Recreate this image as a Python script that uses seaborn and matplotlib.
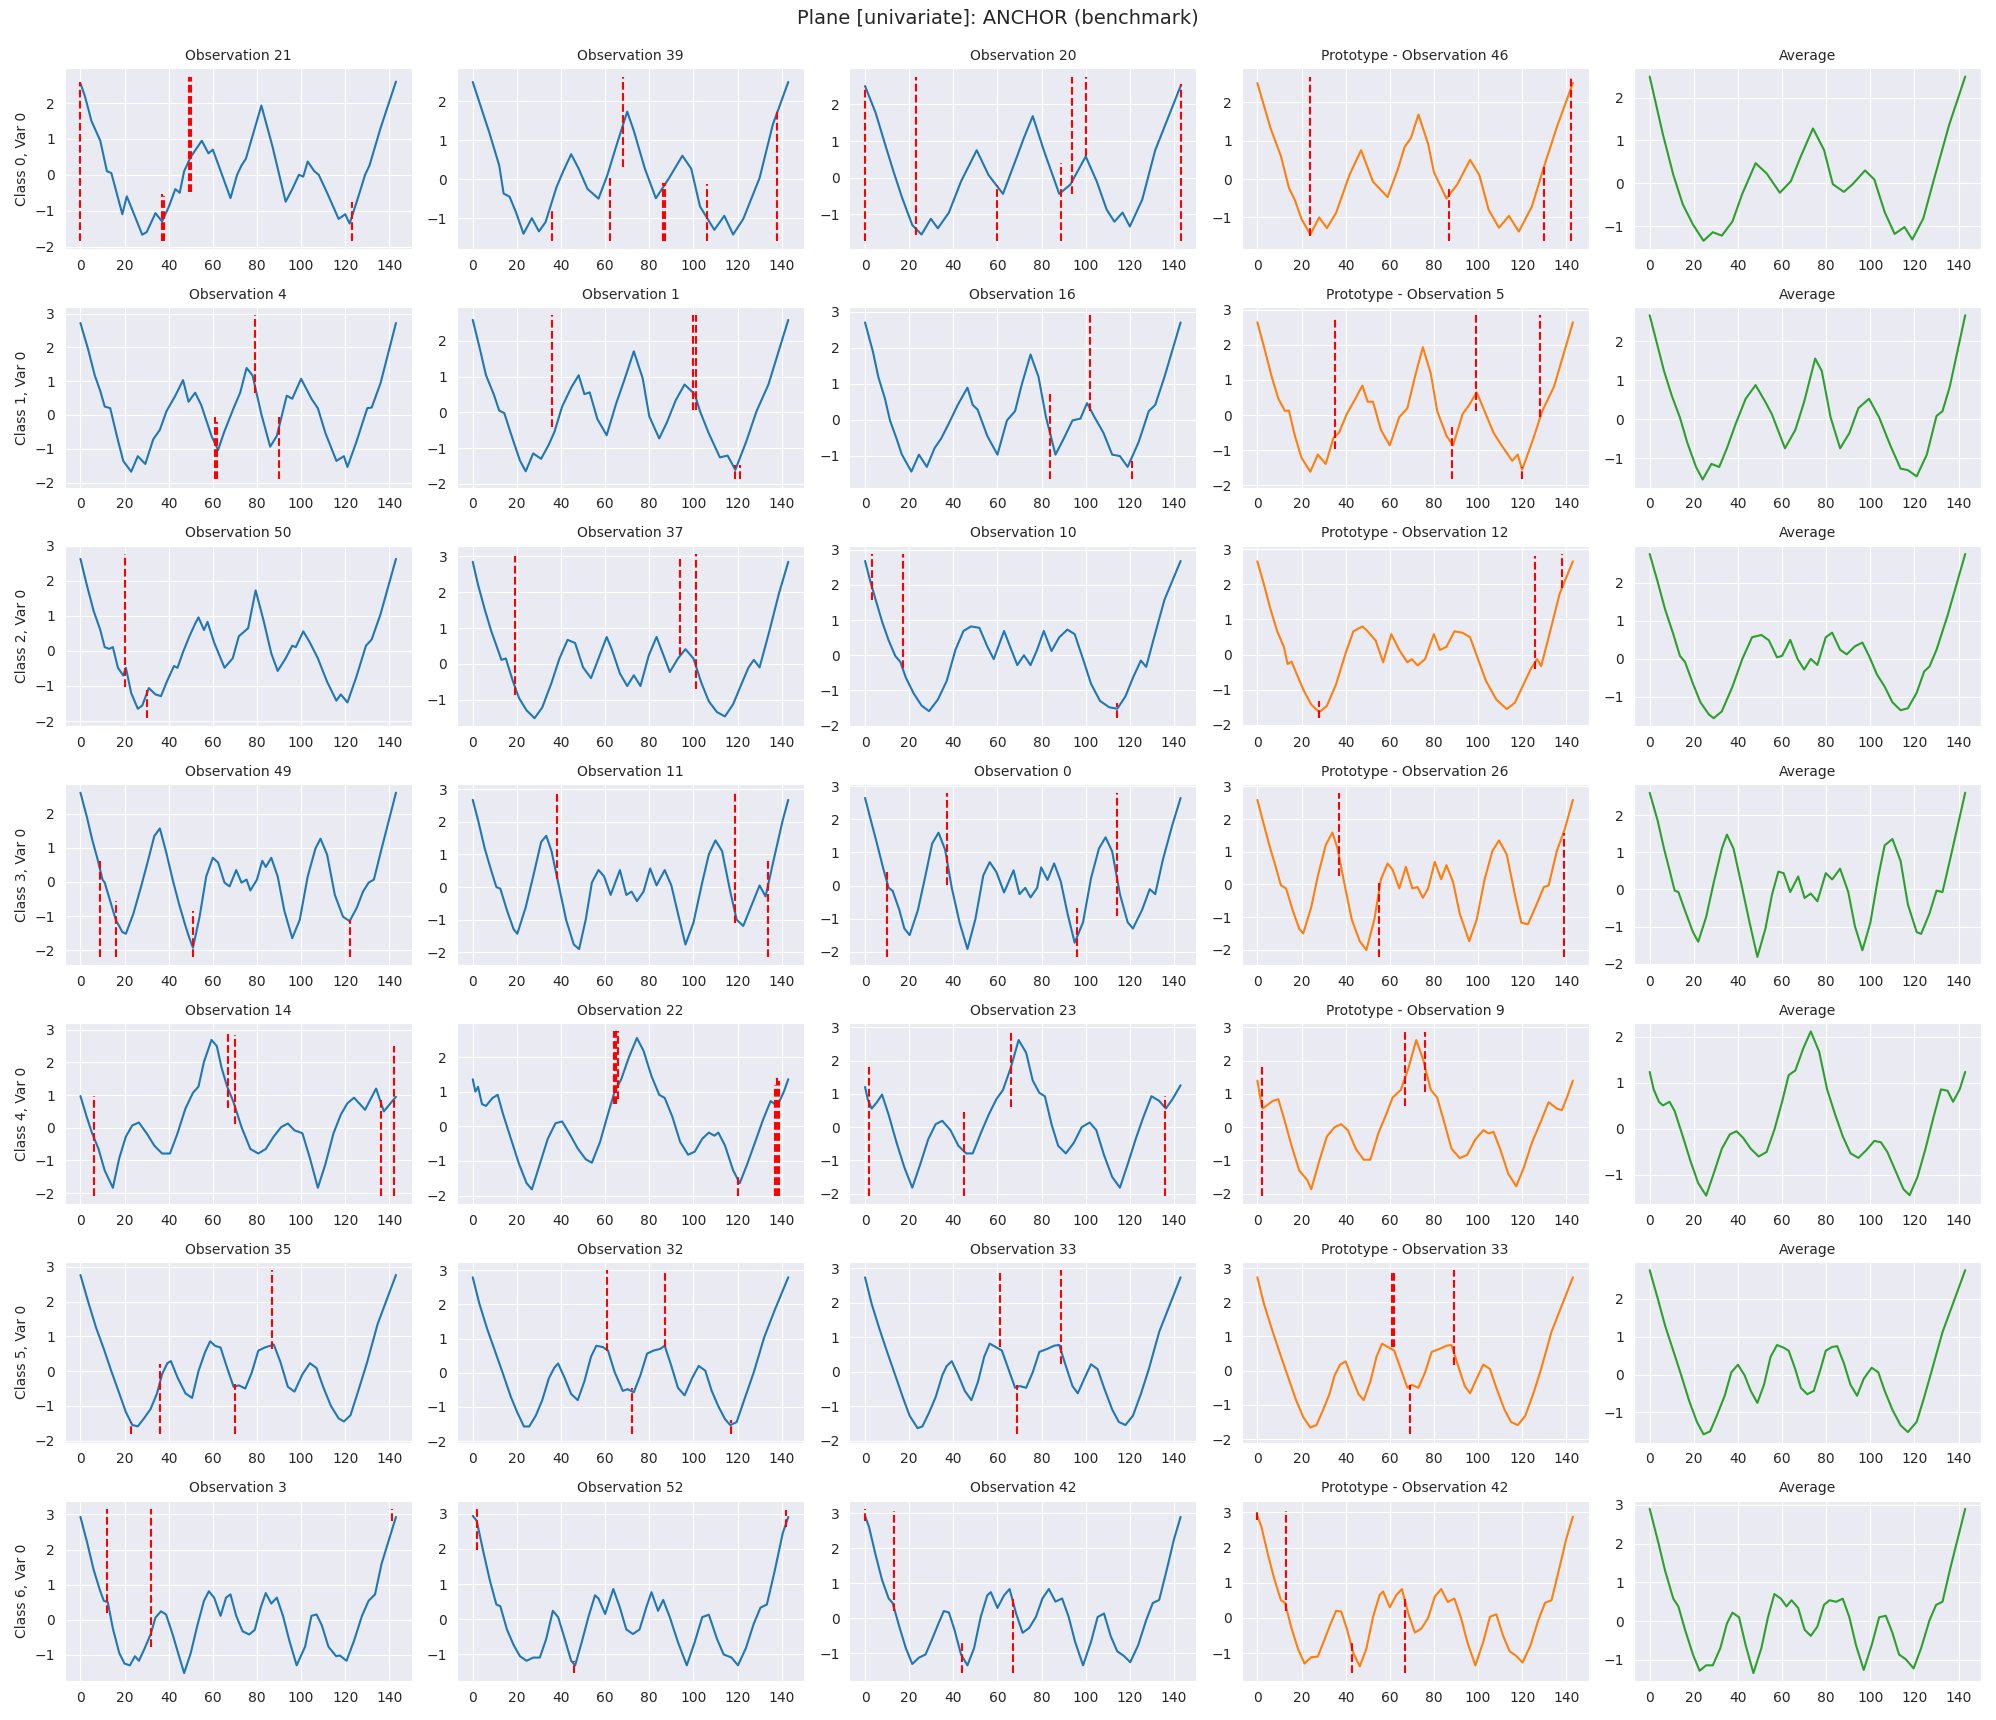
import matplotlib
matplotlib.use("Agg")
import matplotlib.pyplot as plt
import seaborn as sns

# each series: (time index, value)
# each explanation: (time index, ymin, ymax) for a red dashed segment

# ---- Class 0 ----
c0_obs21 = [(0, 2.55), (2, 2.2), (5, 1.5), (9, 0.95), (12, 0.1), (14, 0.05), (19, -1.1), (21, -0.6), (23, -0.9),
            (28, -1.67), (30, -1.6), (34, -1.07), (37, -1.3), (40, -0.9), (43, -0.4), (45, -0.5), (47, 0.1),
            (50, 0.5), (55, 0.95), (58, 0.6), (60, 0.7), (63, 0.2), (68, -0.65), (71, 0.0), (73, 0.26),
            (75, 0.45), (82, 1.93), (87, 0.8), (93, -0.75), (96, -0.4), (99, 0.0), (101, -0.05), (103, 0.37),
            (106, 0.1), (108, 0.0), (112, -0.53), (117, -1.23), (120, -1.1), (122, -1.36), (126, -0.6),
            (129, 0.0), (131, 0.26), (136, 1.3), (143, 2.6)]
c0_obs21_red = [(0, -1.84, 2.59), (37, -1.84, -0.53), (38, -1.84, -0.6), (49, -0.48, 2.74), (50, -0.48, 2.74),
                (123, -1.84, -0.77)]

c0_obs39 = [(0, 2.49), (4, 1.8), (7.7, 1.16), (12, 0.35), (14, -0.37), (16.7, -0.45), (19.6, -0.85), (23, -1.4),
            (26.8, -1.0), (30, -1.34), (33, -1.1), (38, -0.2), (41, 0.2), (44.6, 0.64), (48, 0.27), (52, -0.25),
            (57, -0.5), (61, 0.1), (65, 0.84), (70, 1.73), (73, 1.24), (78, 0.27), (83, -0.49), (89, 0.03),
            (95, 0.6), (99, 0.27), (103, -0.7), (109.5, -1.3), (114, -0.94), (118, -1.42), (122.6, -1.02),
            (130, 0.03), (136, 1.4), (143, 2.49)]
c0_obs39_red = [(36, -1.58, -0.81), (62, -1.58, 0.03), (68, 0.31, 2.63), (86, -1.58, -0.09), (87, -1.58, -0.09),
                (106, -1.58, -0.13), (138, -1.58, 1.8)]

c0_obs20 = [(0, 2.5), (4.8, 1.77), (9.5, 0.83), (13, 0.15), (16.7, -0.53), (21.4, -1.29), (25.6, -1.55),
            (29.8, -1.12), (33, -1.38), (38, -0.95), (43.5, -0.1), (50.6, 0.75), (56, 0.07), (62.5, -0.44),
            (69, 0.6), (72, 1.09), (76, 1.68), (81, 0.75), (88, -0.44), (93, -0.19), (100, 0.58), (105, -0.1),
            (109.5, -0.87), (113, -1.2), (116.7, -0.95), (120, -1.33), (125.6, -0.6), (131.5, 0.75), (143, 2.5)]
c0_obs20_red = [(0, -1.72, 2.5), (23, -1.55, 2.76), (60, -1.72, -0.19), (89, -1.72, 0.41), (94, -0.44, 2.76),
                (100, 0.58, 2.76), (143, -1.72, 2.57)]

c0_proto46 = [(0, 2.5), (6, 1.32), (10.7, 0.59), (14.3, -0.23), (17, -0.55), (20, -1.04), (24, -1.45), (28, -1.0),
              (31.5, -1.28), (35.7, -0.88), (41.7, 0.1), (47, 0.75), (52.4, -0.07), (59, -0.47), (63.7, 0.26),
              (66.7, 0.83), (69.6, 1.07), (73, 1.68), (77.4, 0.91), (80, 0.18), (85.7, -0.51), (90.5, -0.15),
              (96.4, 0.5), (100.6, 0.1), (104.8, -0.8), (109.5, -1.27), (114, -0.96), (118.5, -1.37),
              (124.4, -0.72), (130, 0.34), (136, 1.4), (143, 2.5)]
c0_proto46_red = [(24, -1.49, 2.67), (87, -1.61, -0.23), (130, -1.61, 0.34), (142, -1.61, 2.62)]

c0_avg = [(0, 2.49), (6, 1.14), (10.7, 0.2), (15, -0.49), (19.6, -0.96), (24.4, -1.34), (28.6, -1.14),
          (32.7, -1.22), (37.5, -0.89), (42, -0.24), (48, 0.47), (53, 0.23), (59, -0.22), (64, 0.05), (68.5, 0.63),
          (74, 1.28), (79, 0.78), (83, -0.02), (88, -0.2), (92, -0.02), (97.6, 0.3), (101.8, 0.09), (106.5, -0.67),
          (111, -1.18), (115.5, -1.02), (119, -1.31), (124, -0.82), (128.6, 0.05), (135.7, 1.36), (143, 2.49)]

# ---- Class 1 ----
c1_obs4 = [(0, 2.72), (3.5, 1.94), (6.5, 1.17), (9, 0.71), (11, 0.25), (13.5, 0.2), (16.5, -0.62), (19.4, -1.36),
           (23, -1.68), (26, -1.22), (29.4, -1.45), (33, -0.72), (36, -0.44), (39, 0.11), (43, 0.57), (46.5, 1.03),
           (49, 0.39), (52, 0.66), (54.7, 0.3), (59.4, -0.62), (62.4, -1.04), (65, -0.53), (69.4, 0.2),
           (72.4, 0.66), (75.3, 1.39), (78, 1.17), (82, 0.02), (86, -0.94), (89, -0.62), (93.5, 0.57), (96, 0.48),
           (100, 1.07), (104.7, 0.48), (107.6, 0.2), (111, -0.53), (116, -1.36), (119.4, -1.22), (121, -1.54),
           (125, -0.81), (130, 0.2), (132, 0.22), (136, 0.94), (143, 2.72)]
c1_obs4_red = [(61, -1.91, -0.07), (62, -1.91, -0.2), (79, 0.66, 2.95), (90, -1.91, -0.07)]

c1_obs1 = [(0, 2.59), (3, 1.84), (6, 1.04), (9.5, 0.51), (12, 0.05), (14.3, -0.02), (18, -0.73), (21.4, -1.35),
           (24, -1.65), (27.4, -1.15), (31, -1.3), (34.5, -0.9), (37, -0.55), (40.5, 0.16), (44.6, 0.69),
           (48, 1.04), (50.6, 0.51), (53, 0.56), (56.5, -0.19), (60.7, -0.64), (65, 0.25), (68.5, 0.87), (73, 1.71),
           (77, 0.96), (80, -0.11), (84.5, -0.73), (88, -0.28), (92, 0.34), (96, 0.78), (100.6, 0.51), (103, 0.03),
           (107, -0.59), (112, -1.26), (115.5, -1.21), (119, -1.61), (124, -0.81), (128.6, 0.03), (134, 0.78),
           (143, 2.59)]
c1_obs1_red = [(36, -0.42, 2.72), (100, 0.07, 2.72), (101, 0.07, 2.72), (119, -1.88, -1.48), (121, -1.88, -1.48)]

c1_obs16 = [(0, 2.7), (3.6, 1.88), (6, 1.19), (9, 0.59), (11.3, -0.02), (14.3, -0.53), (16.7, -0.97), (21, -1.44),
            (24.4, -0.97), (28, -1.31), (31.5, -0.79), (34.5, -0.52), (38, -0.1), (42, 0.41), (46.4, 0.89),
            (48.8, 0.41), (51, 0.28), (55.4, -0.45), (60, -0.97), (64.3, -0.02), (68, 0.24), (70.8, 0.93),
            (75, 1.81), (78.6, 1.19), (82, 0.07), (86.3, -0.97), (90, -0.53), (94, -0.02), (97.6, 0.03),
            (100.6, 0.46), (104, 0.07), (108, -0.36), (112, -0.97), (115.5, -1.01), (119, -1.31), (124, -0.62),
            (128.6, 0.24), (131.5, 0.41), (135.7, 1.19), (143, 2.7)]
c1_obs16_red = [(84, -1.66, 0.72), (102, 0.24, 2.9), (121, -1.66, -1.14)]

c1_proto5 = [(0, 2.64), (3.6, 1.8), (6.5, 1.09), (9.5, 0.47), (12.5, 0.12), (14.3, 0.13), (17, -0.59), (20, -1.21),
             (24, -1.61), (27.4, -1.12), (31, -1.39), (34.5, -0.64), (37, -0.5), (40.5, 0.03), (44, 0.42),
             (47.6, 0.84), (50, 0.38), (52.4, 0.38), (56, -0.42), (60, -0.86), (64.3, -0.06), (68, 0.2),
             (71.4, 1.09), (75, 1.93), (78.6, 1.18), (81.5, 0.12), (85.7, -0.59), (88.7, -0.86), (93, 0.03),
             (96, 0.29), (99.4, 0.65), (102.4, 0.2), (107, -0.5), (110.7, -0.86), (115.5, -1.3), (118, -1.12),
             (120, -1.55), (125, -0.68), (129, 0.1), (134.5, 0.82), (143, 2.64)]
c1_proto5_red = [(35, -0.95, 2.77), (88, -1.83, -0.24), (99, 0.12, 2.84), (120, -1.83, -1.48), (128, -0.06, 2.84)]

c1_avg = [(0, 2.66), (3.6, 1.87), (6.5, 1.23), (10, 0.6), (13.7, 0.04), (17, -0.6), (21, -1.23), (24, -1.55),
          (28, -1.15), (31.5, -1.23), (35, -0.75), (39, -0.12), (43.5, 0.52), (48, 0.87), (52.4, 0.44),
          (55.4, 0.12), (61.3, -0.75), (66, -0.28), (70, 0.44), (75, 1.55), (78, 1.23), (82, 0.04), (86.3, -0.75),
          (90.5, -0.36), (94.6, 0.28), (99.4, 0.52), (104, 0.04), (109, -0.67), (113.7, -1.27), (117, -1.31),
          (121, -1.47), (125.6, -0.91), (130, 0.08), (132.7, 0.2), (136, 0.83), (143, 2.66)]

# ---- Class 2 ----
c2_obs50 = [(0, 2.63), (3, 1.86), (6, 1.14), (9, 0.6), (11, 0.11), (13, 0.06), (14.7, 0.11), (17, -0.48),
            (19.4, -0.7), (20.6, -0.48), (23, -1.2), (26, -1.65), (28, -1.56), (31, -1.06), (34, -1.24),
            (36.5, -1.29), (39.4, -0.84), (42.4, -0.43), (44, -0.48), (46.5, -0.03), (49.4, 0.42), (52, 0.78),
            (53.5, 0.96), (56, 0.6), (57.6, 0.83), (60.6, 0.24), (65.3, -0.48), (69, -0.21), (71.8, 0.42),
            (76, 0.65), (79.4, 1.73), (83, 0.87), (86.5, -0.07), (89.4, -0.57), (93, -0.21), (96, 0.15),
            (97.6, 0.11), (101, 0.56), (104, 0.24), (107.6, -0.21), (111.8, -0.88), (116, -1.42), (118, -1.24),
            (121, -1.47), (125, -0.75), (129.4, 0.15), (132, 0.33), (136, 1.05), (143, 2.63)]
c2_obs50_red = [(20, -1.02, 2.77), (30, -1.92, -1.11)]

c2_obs37 = [(0, 2.85), (2.4, 2.21), (5.4, 1.53), (8.3, 0.93), (11.3, 0.41), (13, 0.11), (15, 0.15), (18, -0.45),
            (21, -0.96), (24.4, -1.3), (28, -1.52), (31.5, -1.22), (35.7, -0.53), (39.3, 0.15), (43, 0.67),
            (46.4, 0.58), (50, -0.1), (53.6, -0.4), (57, 0.15), (60.7, 0.75), (63, 0.41), (66.7, -0.27), (70, -0.62),
            (73, -0.32), (76, -0.62), (79.8, 0.24), (83.3, 0.75), (87, 0.15), (89.3, -0.23), (93, 0.15),
            (96.4, 0.41), (100, 0.15), (103.6, -0.53), (107, -1.05), (110.7, -1.35), (114.3, -1.47), (118, -1.13),
            (121.4, -0.62), (125, -0.1), (127.4, 0.11), (130, -0.1), (134.5, 0.93), (138.7, 1.95), (143, 2.85)]
c2_obs37_red = [(19, -0.87, 3.0), (94, 0.24, 2.98), (101, -0.7, 3.07)]

c2_obs10 = [(0, 2.68), (2.4, 2.1), (4.8, 1.58), (7.7, 0.96), (10.7, 0.42), (13.7, -0.02), (16, -0.19),
            (18.5, -0.64), (22, -1.08), (25.6, -1.43), (29, -1.59), (33, -1.26), (37, -0.73), (41, 0.16),
            (44.6, 0.69), (48, 0.82), (51.8, 0.78), (55.4, 0.25), (58.3, -0.11), (63, 0.69), (66, 0.2), (69, -0.28),
            (72, 0.0), (75, -0.28), (78, 0.16), (81, 0.69), (84.5, 0.12), (88, 0.51), (91.7, 0.73), (95, 0.6),
            (98.8, -0.11), (102.4, -0.81), (106.5, -1.3), (110.7, -1.48), (114.3, -1.52), (118, -1.17),
            (121.4, -0.64), (125, -0.15), (127.4, -0.33), (131, 0.51), (135.7, 1.58), (143, 2.68)]
c2_obs10_red = [(3, 1.58, 2.88), (17, -0.37, 2.88), (114, -1.79, -1.35)]

c2_proto12 = [(0, 2.65), (3, 1.99), (6, 1.28), (9, 0.66), (12, 0.22), (13.7, -0.27), (15.5, -0.2), (18, -0.58),
              (21, -1.02), (24.4, -1.42), (28, -1.64), (31.5, -1.46), (35.7, -0.84), (40, 0.04), (43.5, 0.66),
              (47.6, 0.8), (50, 0.66), (53.6, 0.4), (57, -0.22), (60.7, 0.58), (64.3, 0.13), (68, -0.22),
              (70, -0.13), (72.6, -0.31), (76, -0.13), (80, 0.58), (82.7, 0.13), (85.7, 0.22), (89.3, 0.66),
              (93, 0.62), (96.4, 0.49), (100, -0.13), (103.6, -0.75), (108.3, -1.28), (113, -1.55), (116.7, -1.37),
              (120, -0.93), (124, -0.4), (126.8, -0.13), (128.6, -0.33), (132, 0.49), (137, 1.73), (143, 2.65)]
c2_proto12_red = [(28, -1.81, -1.33), (126, -0.4, 2.8), (138, 1.9, 2.86)]

c2_avg = [(0, 2.76), (3.6, 2.03), (7, 1.3), (10.7, 0.65), (13.7, 0.08), (16, -0.08), (19.6, -0.65), (23, -1.14),
          (26.8, -1.46), (29, -1.56), (32.7, -1.38), (37.5, -0.73), (42, 0.0), (46.4, 0.57), (50.6, 0.63),
          (54, 0.49), (57.7, 0.04), (60, 0.08), (63.7, 0.5), (67, 0.0), (70, -0.28), (73, 0.0), (76, -0.16),
          (79.8, 0.57), (82.7, 0.69), (86.3, 0.24), (89.3, 0.12), (93, 0.33), (96.4, 0.43), (99.4, 0.08),
          (103, -0.41), (106.5, -0.73), (110, -1.14), (113.7, -1.35), (117, -1.3), (121, -0.89), (124.4, -0.33),
          (126.8, -0.2), (130, 0.24), (135, 1.14), (143, 2.76)]

# ---- Class 3 ----
c3_obs49 = [(0, 2.62), (3, 1.89), (5.3, 1.25), (7.6, 0.71), (10, 0.07), (11, -0.02), (13.5, -0.56), (16, -1.11),
            (19, -1.47), (20.6, -1.52), (24, -0.93), (27.6, -0.11), (30.6, 0.62), (33.5, 1.35), (36, 1.57),
            (38.8, 0.89), (41.8, 0.07), (44.7, -0.65), (47.6, -1.29), (49.4, -1.65), (51, -1.93), (54, -1.02),
            (57, 0.16), (60, 0.71), (62.4, 0.57), (65.3, -0.02), (67.6, -0.13), (70.6, 0.35), (73, -0.02),
            (75.3, 0.07), (77, -0.25), (80, 0.07), (82.4, 0.62), (84, 0.44), (86.5, 0.71), (89.4, 0.16),
            (92.4, -0.84), (96, -1.65), (99.4, -1.11), (103, 0.16), (106.5, 0.98), (108.8, 1.27), (111.8, 0.8),
            (115.3, -0.38), (119, -1.02), (122, -1.15), (125.3, -0.75), (128, -0.29), (130.6, -0.02), (133, 0.07),
            (136.5, 0.98), (143, 2.62)]
c3_obs49_red = [(9, -2.2, 0.66), (16, -2.2, -0.56), (51, -2.2, -0.84), (122, -2.2, -1.11)]

c3_obs11 = [(0, 2.67), (2.4, 2.05), (5.4, 1.19), (8.3, 0.52), (10.7, 0.0), (12.5, -0.05), (15.5, -0.71),
            (18.5, -1.29), (20.2, -1.43), (24, -0.62), (27.4, 0.33), (31, 1.38), (33.3, 1.57), (35.7, 1.1),
            (39.3, -0.05), (42.3, -1.0), (45.8, -1.76), (48.2, -1.9), (51.2, -1.0), (54, 0.14), (57, 0.52),
            (59.5, 0.33), (62.5, -0.24), (66.7, 0.52), (69.6, -0.24), (72, -0.14), (74.4, -0.43), (77.4, -0.14),
            (80.4, 0.57), (83.3, 0.05), (87, 0.52), (90, 0.05), (93, -0.81), (96.4, -1.76), (100, -1.1), (104, 0.14),
            (107, 1.0), (110, 1.43), (113, 1.1), (116.7, -0.14), (119.6, -1.0), (122.6, -1.19), (126, -0.62),
            (130, 0.05), (132.7, -0.29), (136.3, 0.81), (140.5, 2.05), (143, 2.67)]
c3_obs11_red = [(38, 0.24, 2.89), (119, -1.1, 2.89), (134, -2.14, 0.9)]

c3_obs0 = [(0, 2.65), (2.4, 2.03), (5.4, 1.27), (8.3, 0.5), (10.7, -0.07), (12.5, -0.16), (15.5, -0.73),
           (17.8, -1.3), (20.2, -1.5), (24, -0.73), (27.4, 0.31), (30.4, 1.27), (33.3, 1.6), (36.3, 1.08),
           (39.3, -0.07), (42.8, -1.11), (46.4, -1.92), (50, -1.02), (53.6, 0.31), (56.5, 0.71), (59.5, 0.41),
           (63, -0.21), (67.3, 0.46), (70, -0.26), (72.6, -0.07), (75, -0.36), (78, -0.07), (79.8, 0.55),
           (82.7, 0.17), (85.7, 0.67), (88.7, 0.12), (91.7, -0.83), (95, -1.73), (98.8, -1.11), (102.4, 0.22),
           (106, 1.12), (109, 1.46), (112, 1.03), (115.5, -0.26), (119, -1.11), (121.4, -1.3), (125.6, -0.73),
           (129, -0.11), (131.5, -0.26), (135, 0.79), (139.3, 1.84), (143, 2.65)]
c3_obs0_red = [(10, -2.16, 0.5), (37, 0.03, 2.81), (96, -2.16, -0.69), (114, -0.92, 2.79)]

c3_proto26 = [(0, 2.59), (2.4, 1.97), (5.4, 1.21), (8.3, 0.54), (10.7, -0.03), (13, -0.12), (16, -0.79),
              (19, -1.36), (20.8, -1.5), (24.4, -0.7), (27.4, 0.26), (31, 1.21), (34, 1.59), (36.3, 1.11),
              (39.3, 0.07), (42.8, -1.08), (46.4, -1.74), (49.4, -2.01), (53, -1.08), (56, 0.16), (59, 0.64),
              (61.3, 0.45), (64.3, -0.12), (67.3, 0.54), (70.2, -0.12), (72.6, -0.08), (75, -0.41), (77.4, -0.12),
              (80.4, 0.69), (83.3, 0.16), (85.7, 0.59), (88.7, 0.07), (91.7, -0.89), (96, -1.74), (99.4, -1.08),
              (103, 0.16), (106.5, 1.02), (109.5, 1.35), (113, 0.92), (116.7, -0.31), (119.6, -1.17),
              (122.6, -1.22), (126, -0.7), (129.8, -0.08), (132, -0.03), (135.7, 1.02), (139.3, 1.69), (143, 2.59)]
c3_proto26_red = [(37, 0.26, 2.81), (55, -2.22, 0.11), (139, -2.22, 1.59)]

c3_avg = [(0, 2.61), (3.6, 1.86), (6.5, 1.1), (9, 0.52), (11.3, -0.03), (13, -0.07), (16, -0.57), (19.6, -1.15),
          (22, -1.41), (25.6, -0.74), (29, 0.18), (32.7, 1.1), (35, 1.48), (38, 1.1), (41.7, 0.1), (45, -0.82),
          (48.8, -1.82), (52.4, -1.07), (55.4, -0.15), (58.3, 0.48), (60.7, 0.44), (63.7, -0.07), (67.3, 0.35),
          (70.2, -0.23), (73, -0.11), (76, -0.32), (79.8, 0.44), (82.7, 0.27), (86.3, 0.56), (90, -0.07),
          (93, -0.99), (96.4, -1.64), (100, -0.9), (103.6, 0.35), (106.5, 1.19), (110, 1.36), (113.7, 0.77),
          (117, -0.4), (121, -1.15), (123, -1.2), (126.8, -0.65), (130, -0.03), (132.7, -0.07), (136.3, 0.85),
          (143, 2.61)]

# ---- Class 4 ----
c4_obs14 = [(0, 0.97), (3, 0.3), (5.3, -0.17), (8.2, -0.65), (11, -1.31), (14.7, -1.84), (17.6, -0.93),
            (20.6, -0.27), (23.5, 0.07), (26.5, 0.16), (30, -0.17), (33.5, -0.55), (37, -0.79), (40.6, -0.79),
            (44, -0.17), (47.6, 0.59), (51, 1.07), (53.5, 1.26), (56, 2.02), (59.4, 2.69), (61.8, 2.5), (64, 1.83),
            (66.5, 1.26), (69.4, 0.78), (73, 0.02), (77, -0.65), (80.6, -0.79), (84, -0.65), (87.6, -0.27),
            (91, 0.02), (94, 0.13), (97, -0.08), (100.6, -0.17), (104, -0.93), (107.6, -1.84), (111, -1.12),
            (114.7, -0.17), (118, 0.4), (121, 0.75), (124, 0.92), (129, 0.55), (134, 1.2), (137.5, 0.5),
            (143, 0.95)]
c4_obs14_red = [(6, -2.08, 0.97), (67, 0.59, 2.95), (70, 0.11, 2.83), (136, -2.08, 0.88), (142, -2.08, 2.51)]

c4_obs22 = [(0, 1.36), (1.2, 1.0), (2.4, 1.14), (4.2, 0.64), (6, 0.59), (9, 0.82), (11.3, 0.91), (13.7, 0.36),
            (17.3, -0.36), (21, -1.09), (24.4, -1.64), (26.8, -1.82), (30.4, -1.09), (34, -0.36), (37.5, 0.09),
            (40.5, 0.14), (44, -0.23), (47.6, -0.64), (51.2, -0.95), (54, -1.05), (57.7, -0.45), (61.3, 0.36),
            (64.3, 1.0), (67.3, 1.36), (70.8, 2.0), (74.4, 2.55), (77.4, 2.18), (81, 1.45), (84.5, 0.91),
            (87, 0.82), (90.5, 0.27), (94, -0.45), (97.6, -0.82), (100.6, -0.73), (104, -0.36), (107, -0.18),
            (109.5, -0.27), (111.3, -0.18), (114.3, -0.55), (118, -1.27), (121, -1.64), (124.4, -1.09),
            (128, -0.45), (131.5, 0.18), (135, 0.73), (138, 0.59), (141, 1.0), (143, 1.36)]
c4_obs22_red = [(64, 0.64, 2.74), (65, 0.64, 2.74), (66, 0.8, 2.74), (120, -2.0, -1.45), (137, -2.0, 1.2),
                (138, -2.0, 1.45), (139, -2.0, 1.3)]

c4_obs23 = [(0, 1.21), (1.2, 0.84), (3, 0.56), (5.4, 0.75), (7.7, 0.98), (10.7, 0.37), (14.3, -0.47),
            (17.8, -1.21), (21.4, -1.82), (25, -1.12), (28.6, -0.37), (32, 0.09), (35, 0.19), (38.7, -0.09),
            (42.3, -0.56), (45.8, -0.79), (48.8, -0.79), (52.4, -0.19), (56, 0.37), (59.5, 0.84), (62.5, 1.12),
            (66, 1.78), (69.6, 2.62), (73, 2.24), (76, 1.4), (79, 1.03), (81.5, 0.93), (84.5, 0.09), (87.5, -0.56),
            (91, -0.79), (94.6, -0.47), (98.2, 0.0), (101.8, 0.14), (104.8, -0.09), (108.3, -0.84), (112, -1.5),
            (115.5, -1.82), (119, -1.12), (122.6, -0.37), (126, 0.28), (129.8, 0.93), (133.3, 0.79),
            (136.3, 0.56), (139.3, 0.84), (143, 1.26)]
c4_obs23_red = [(2, -2.06, 1.82), (45, -2.06, 0.47), (66, 0.61, 2.88), (136, -2.06, 0.93)]

c4_proto9 = [(0, 1.4), (1.2, 0.93), (2.4, 0.56), (4.2, 0.65), (7, 0.79), (9.5, 0.84), (12, 0.28), (15.5, -0.56),
             (19, -1.31), (22.6, -1.59), (24.4, -1.87), (28, -1.03), (31.5, -0.28), (35, 0.0), (38, 0.09),
             (41, -0.09), (44.6, -0.65), (48.2, -0.98), (51.2, -0.98), (54.8, -0.19), (58.3, 0.37), (61.3, 0.89),
             (65, 1.12), (68.5, 1.78), (72, 2.62), (75, 2.06), (78.6, 1.12), (81.5, 0.89), (84.5, 0.19),
             (88, -0.65), (91.7, -0.93), (95, -0.84), (98.8, -0.37), (102.4, -0.09), (104.8, -0.19), (107, -0.14),
             (110, -0.65), (113.7, -1.4), (117.3, -1.78), (120.8, -1.21), (124.4, -0.47), (128.6, 0.19),
             (132, 0.75), (135.7, 0.56), (138, 0.51), (140.5, 0.93), (143, 1.4)]
c4_proto9_red = [(2, -2.06, 1.82), (67, 0.65, 2.88), (76, 1.07, 2.85)]

c4_avg = [(0, 1.24), (1.8, 0.86), (4.2, 0.59), (6, 0.51), (9, 0.59), (11.3, 0.39), (15, -0.16), (18.5, -0.7),
          (22, -1.18), (25.6, -1.45), (29, -0.97), (32.7, -0.43), (36.3, -0.12), (39.3, -0.05), (42.3, -0.19),
          (45.8, -0.43), (49.4, -0.6), (53, -0.5), (56.5, -0.02), (60, 0.59), (63, 1.17), (66, 1.27),
          (69.6, 1.75), (73, 2.12), (76.8, 1.68), (80.4, 0.86), (84, 0.32), (87.5, -0.16), (91, -0.53),
          (94.6, -0.63), (98.2, -0.46), (101.8, -0.26), (104.8, -0.29), (107.7, -0.5), (111.3, -0.9), (115, -1.31),
          (117.8, -1.44), (121.4, -1.04), (125, -0.43), (128.6, 0.25), (132, 0.86), (135, 0.83), (137.5, 0.59),
          (140.5, 0.86), (143, 1.24)]

# ---- Class 5 ----
c5_obs35 = [(0, 2.77), (3.5, 2.0), (7, 1.27), (10.6, 0.64), (14, 0.0), (17.6, -0.64), (20.6, -1.18), (23.5, -1.55),
            (26, -1.59), (28.8, -1.36), (31.8, -1.09), (34.7, -0.64), (37, -0.09), (39.4, 0.23), (41, 0.29),
            (44, -0.18), (47.6, -0.64), (50.6, -0.77), (53.5, 0.0), (56.5, 0.55), (58.8, 0.86), (61, 0.73),
            (63.5, 0.68), (66.5, 0.09), (69.4, -0.45), (71.8, -0.41), (74.7, -0.5), (77.6, -0.05), (80.6, 0.59),
            (83.5, 0.68), (86, 0.73), (87.6, 0.77), (90.6, 0.27), (94, -0.45), (97, -0.59), (100.6, -0.09),
            (104, 0.23), (107, 0.09), (110, -0.45), (113.5, -1.0), (117, -1.36), (119.4, -1.45), (122.4, -1.27),
            (126, -0.55), (130, 0.27), (134.7, 1.36), (143, 2.77)]
c5_obs35_red = [(23, -1.82, -1.45), (36, -1.82, 0.2), (70, -1.82, -0.36), (87, 0.64, 2.91)]

c5_obs32 = [(0, 2.79), (3, 2.02), (6.5, 1.29), (10, 0.65), (13.7, -0.03), (17.3, -0.71), (20.2, -1.16),
            (23.2, -1.57), (25.6, -1.57), (28.6, -1.25), (31.5, -0.8), (34.5, -0.16), (37, 0.15), (38.7, 0.27),
            (41.7, -0.16), (44.6, -0.62), (47.6, -0.8), (50.6, -0.25), (53.6, 0.47), (56, 0.79), (59, 0.75),
            (61.3, 0.65), (64.3, 0.02), (68, -0.53), (70.2, -0.48), (73, -0.57), (76, -0.07), (79, 0.56), (82, 0.65),
            (85, 0.7), (87, 0.79), (90, 0.2), (93, -0.44), (96, -0.66), (99.4, -0.16), (102.4, 0.2), (105.4, 0.06),
            (108.3, -0.53), (111.3, -0.98), (114.3, -1.35), (116.7, -1.53), (119.6, -1.44), (123, -0.8),
            (127.4, 0.02), (132, 1.02), (136.9, 1.84), (143, 2.79)]
c5_obs32_red = [(61, 0.65, 3.0), (72, -1.8, -0.44), (87, 0.75, 2.93), (117, -1.8, -1.39)]

c5_obs33 = [(0, 2.73), (3, 1.96), (6.5, 1.24), (10, 0.57), (13.7, -0.11), (17.3, -0.78), (20.2, -1.28),
            (23.8, -1.64), (26, -1.59), (29, -1.19), (32, -0.74), (35, -0.11), (37, 0.16), (39.3, 0.3),
            (42.3, -0.11), (45.2, -0.56), (48.2, -0.83), (51.2, -0.29), (54, 0.43), (56.5, 0.81), (59.5, 0.7),
            (62, 0.61), (65, 0.07), (68, -0.47), (70, -0.42), (73, -0.47), (76, -0.02), (79, 0.57), (82.7, 0.66),
            (85.7, 0.75), (88, 0.77), (91, 0.16), (94, -0.42), (96.4, -0.63), (99.4, -0.2), (102.4, 0.21),
            (105.4, 0.07), (108.3, -0.47), (112, -1.1), (115, -1.46), (118, -1.55), (121.4, -1.28), (125, -0.65),
            (128.6, 0.07), (133.3, 1.15), (143, 2.73)]
c5_obs33_red = [(61, 0.7, 2.94), (69, -1.82, -0.38), (89, 0.21, 2.94)]

c5_proto33 = [(0, 2.73), (3, 1.95), (6.5, 1.23), (10, 0.55), (13.7, -0.14), (17.3, -0.82), (20.8, -1.36),
              (24, -1.66), (26.8, -1.59), (29.8, -1.14), (32.7, -0.68), (35, -0.14), (37.5, 0.18), (40, 0.27),
              (43, -0.23), (45.8, -0.68), (48.2, -0.86), (51.2, -0.32), (54, 0.41), (56.5, 0.79), (59.5, 0.68),
              (62, 0.59), (65, 0.05), (68, -0.5), (70, -0.41), (73, -0.5), (76, -0.05), (79, 0.55), (82.7, 0.64),
              (85.7, 0.73), (88, 0.75), (91, 0.14), (94, -0.45), (96.4, -0.66), (99.4, -0.23), (102.4, 0.18),
              (105.4, 0.05), (108.3, -0.5), (112, -1.14), (115, -1.5), (118, -1.59), (121.4, -1.32), (125, -0.68),
              (128.6, 0.05), (133.3, 1.14), (143, 2.73)]
c5_proto33_red = [(61, 0.68, 2.94), (62, 0.68, 2.94), (69, -1.86, -0.41), (89, 0.18, 2.94)]

c5_avg = [(0, 2.76), (3.6, 2.02), (7, 1.29), (10.7, 0.63), (14.3, -0.02), (17.8, -0.68), (21.4, -1.25),
          (24.4, -1.58), (27.4, -1.5), (30.4, -1.09), (34, -0.56), (37, 0.06), (40, 0.26), (43, -0.02),
          (45.8, -0.43), (48.8, -0.75), (51.8, -0.27), (54.8, 0.47), (57.7, 0.78), (60.7, 0.71), (63, 0.63),
          (66, 0.14), (68.5, -0.35), (71.4, -0.52), (74.4, -0.43), (77.4, 0.14), (79.8, 0.63), (82.7, 0.73),
          (85, 0.75), (88, 0.3), (91, -0.27), (94, -0.56), (97, -0.11), (100.6, 0.18), (103.6, 0.06),
          (106.5, -0.43), (110, -0.93), (113.7, -1.34), (117, -1.52), (121, -1.25), (124.4, -0.6), (128, 0.14),
          (132.7, 1.12), (143, 2.76)]

# ---- Class 6 ----
c6_obs3 = [(0, 2.93), (3, 2.21), (6, 1.42), (9, 0.81), (10.6, 0.54), (12.4, 0.5), (14.7, -0.25), (17.6, -0.95),
           (20, -1.25), (22.4, -1.3), (24.7, -1.04), (26.5, -1.17), (28.8, -0.86), (31.8, -0.42), (34, 0.06),
           (36.5, 0.24), (38.8, 0.15), (41.8, -0.42), (44.7, -1.04), (47, -1.52), (50, -0.95), (53, -0.16),
           (56, 0.54), (58.2, 0.81), (60.6, 0.63), (63.5, 0.11), (66, 0.63), (68, 0.72), (70.6, 0.11),
           (73.5, -0.33), (76.5, -0.42), (79, -0.29), (81.8, 0.37), (84, 0.76), (86.5, 0.46), (89, 0.63),
           (91.8, 0.11), (94.7, -0.6), (98, -1.3), (101.8, -0.77), (104.7, 0.11), (107, 0.15), (109.4, -0.16),
           (112.4, -0.77), (115.9, -1.04), (117.6, -1.02), (120.6, -1.17), (124, -0.6), (127.6, 0.11),
           (130.6, 0.54), (133.5, 0.72), (136.5, 1.6), (143, 2.93)]
c6_obs3_red = [(12, 0.19, 3.16), (32, -0.77, 3.16), (141, 2.82, 3.16)]

c6_obs52 = [(0, 2.94), (1.8, 2.8), (4.8, 1.92), (7.7, 1.12), (10.7, 0.42), (12.5, 0.37), (15.5, -0.29),
            (18.5, -0.73), (21.4, -1.05), (24.4, -1.18), (27.4, -1.09), (30.4, -1.09), (33.3, -0.56), (36.3, 0.24),
            (38.7, 0.06), (41.7, -0.56), (44.6, -1.18), (46.4, -1.31), (49.4, -0.65), (52.4, 0.06), (55.4, 0.68),
            (57, 0.59), (60, 0.15), (63.7, 0.86), (66.7, 0.33), (69.6, -0.29), (72.6, -0.42), (75.6, -0.29),
            (78.6, 0.33), (81, 0.77), (84, 0.24), (86.3, 0.55), (89.3, 0.06), (93, -0.65), (97, -1.31),
            (100.6, -0.65), (104, 0.06), (107, 0.13), (110.7, -0.56), (113.7, -1.0), (117.3, -1.09),
            (120.2, -1.31), (123.8, -0.82), (127.4, -0.12), (130.4, 0.33), (133.3, 0.42), (136.9, 1.39),
            (140.5, 2.45), (143, 2.91)]
c6_obs52_red = [(2, 1.96, 3.14), (46, -1.53, -1.18), (142, 2.63, 3.12)]

c6_obs42 = [(0, 2.92), (1.8, 2.6), (4.8, 1.8), (7.7, 1.09), (10.7, 0.56), (12.5, 0.43), (15.5, -0.24),
            (18.5, -0.86), (21.4, -1.31), (24.4, -1.13), (27.4, -1.04), (30.4, -0.6), (33.3, -0.15), (35.7, 0.2),
            (38, 0.16), (40.5, -0.33), (43.5, -1.04), (46.4, -1.35), (49.4, -0.86), (52.4, 0.03), (55.4, 0.65),
            (57, 0.74), (60, 0.29), (63, 0.65), (65.5, 0.83), (68.5, 0.12), (71.4, -0.42), (74.4, -0.28),
            (77.4, 0.03), (80.4, 0.56), (83.3, 0.83), (86.3, 0.47), (89.3, 0.56), (92.3, 0.03), (95.2, -0.68),
            (98.8, -1.35), (102.4, -0.68), (105.4, 0.03), (108.3, 0.13), (111.3, -0.51), (114.3, -0.95),
            (117.3, -1.08), (120.2, -1.26), (123.8, -0.77), (127.4, -0.06), (130.4, 0.43), (133.3, 0.52),
            (137, 1.45), (140, 2.25), (143, 2.89)]
c6_obs42_red = [(0, 2.78, 3.12), (13, 0.2, 3.07), (44, -1.57, -0.68), (67, -1.57, 0.56)]

c6_proto42 = [(0, 2.9), (1.8, 2.6), (4.8, 1.8), (7.7, 1.1), (10.7, 0.5), (12.5, 0.43), (15.5, -0.3), (18.5, -0.9),
              (21.4, -1.3), (24.4, -1.12), (27.4, -1.1), (30.4, -0.62), (33.3, -0.15), (35.7, 0.2), (38, 0.18),
              (40.5, -0.3), (43.5, -1.0), (46.4, -1.38), (49.4, -0.88), (52.4, 0.02), (55.4, 0.65), (57, 0.75),
              (60, 0.3), (63, 0.65), (65.5, 0.82), (68.5, 0.1), (71.4, -0.42), (74.4, -0.3), (77.4, 0.0),
              (80.4, 0.6), (83.3, 0.82), (86.3, 0.45), (89.3, 0.55), (92.3, 0.0), (95.2, -0.7), (98.8, -1.35),
              (102.4, -0.68), (105.4, 0.03), (108.3, 0.1), (111.3, -0.5), (114.3, -0.95), (117.3, -1.08),
              (120.2, -1.27), (123.8, -0.78), (127.4, -0.05), (130.4, 0.43), (133.3, 0.5), (137, 1.45),
              (140, 2.25), (143, 2.88)]
c6_proto42_red = [(0, 2.77, 3.1), (13, 0.2, 3.05), (43, -1.57, -0.68), (67, -1.57, 0.56)]

c6_avg = [(0, 2.9), (3.6, 2.1), (7, 1.3), (10.7, 0.58), (13, 0.38), (16, -0.22), (19.6, -0.86), (22.6, -1.28),
          (25.6, -1.14), (28.6, -1.14), (32, -0.7), (35, -0.06), (37.5, 0.22), (40.5, 0.1), (43.5, -0.62),
          (47, -1.34), (50.6, -0.7), (53.6, 0.1), (56.5, 0.7), (59.5, 0.58), (62, 0.38), (64.3, 0.54),
          (67.3, 0.34), (70.2, -0.22), (73, -0.38), (76, -0.14), (79, 0.42), (81.5, 0.54), (84.5, 0.5),
          (87.5, 0.58), (90.5, 0.1), (93.5, -0.62), (97, -1.26), (100.6, -0.62), (104, 0.1), (107, 0.14),
          (110, -0.3), (113, -0.86), (116, -0.98), (119.6, -1.22), (123, -0.7), (126.8, 0.02), (129.8, 0.42),
          (132.7, 0.5), (136.3, 1.38), (143, 2.9)]

row_labels = ["Class 0, Var 0", "Class 1, Var 0", "Class 2, Var 0", "Class 3, Var 0",
              "Class 4, Var 0", "Class 5, Var 0", "Class 6, Var 0"]

grid = [
    [("Observation 21", c0_obs21, c0_obs21_red), ("Observation 39", c0_obs39, c0_obs39_red),
     ("Observation 20", c0_obs20, c0_obs20_red), ("Prototype - Observation 46", c0_proto46, c0_proto46_red),
     ("Average", c0_avg, [])],
    [("Observation 4", c1_obs4, c1_obs4_red), ("Observation 1", c1_obs1, c1_obs1_red),
     ("Observation 16", c1_obs16, c1_obs16_red), ("Prototype - Observation 5", c1_proto5, c1_proto5_red),
     ("Average", c1_avg, [])],
    [("Observation 50", c2_obs50, c2_obs50_red), ("Observation 37", c2_obs37, c2_obs37_red),
     ("Observation 10", c2_obs10, c2_obs10_red), ("Prototype - Observation 12", c2_proto12, c2_proto12_red),
     ("Average", c2_avg, [])],
    [("Observation 49", c3_obs49, c3_obs49_red), ("Observation 11", c3_obs11, c3_obs11_red),
     ("Observation 0", c3_obs0, c3_obs0_red), ("Prototype - Observation 26", c3_proto26, c3_proto26_red),
     ("Average", c3_avg, [])],
    [("Observation 14", c4_obs14, c4_obs14_red), ("Observation 22", c4_obs22, c4_obs22_red),
     ("Observation 23", c4_obs23, c4_obs23_red), ("Prototype - Observation 9", c4_proto9, c4_proto9_red),
     ("Average", c4_avg, [])],
    [("Observation 35", c5_obs35, c5_obs35_red), ("Observation 32", c5_obs32, c5_obs32_red),
     ("Observation 33", c5_obs33, c5_obs33_red), ("Prototype - Observation 33", c5_proto33, c5_proto33_red),
     ("Average", c5_avg, [])],
    [("Observation 3", c6_obs3, c6_obs3_red), ("Observation 52", c6_obs52, c6_obs52_red),
     ("Observation 42", c6_obs42, c6_obs42_red), ("Prototype - Observation 42", c6_proto42, c6_proto42_red),
     ("Average", c6_avg, [])],
]

col_colors = ["tab:blue", "tab:blue", "tab:blue", "tab:orange", "tab:green"]

sns.set_style("darkgrid")

fig, axes = plt.subplots(7, 5, figsize=(19.96, 17.2))

for r, row in enumerate(grid):
    for c, (title, pts, reds) in enumerate(row):
        ax = axes[r, c]
        sns.lineplot(x=[p[0] for p in pts], y=[p[1] for p in pts], ax=ax, color=col_colors[c], linewidth=1.5)
        for x, lo, hi in reds:
            ax.vlines(x, lo, hi, colors="red", linestyles="--", linewidth=1.5)
        ax.set_title(title, fontsize=10)
        ax.set_xticks([0, 20, 40, 60, 80, 100, 120, 140])
    axes[r, 0].set_ylabel(row_labels[r], fontsize=10)

st = fig.suptitle("Plane [univariate]: ANCHOR (benchmark)", fontsize=14)
fig.tight_layout()
# lift the title clear of the first row once the grid is placed
st.set_y(0.995)
st.set_va("top")
fig.savefig("out.png", dpi=100)
